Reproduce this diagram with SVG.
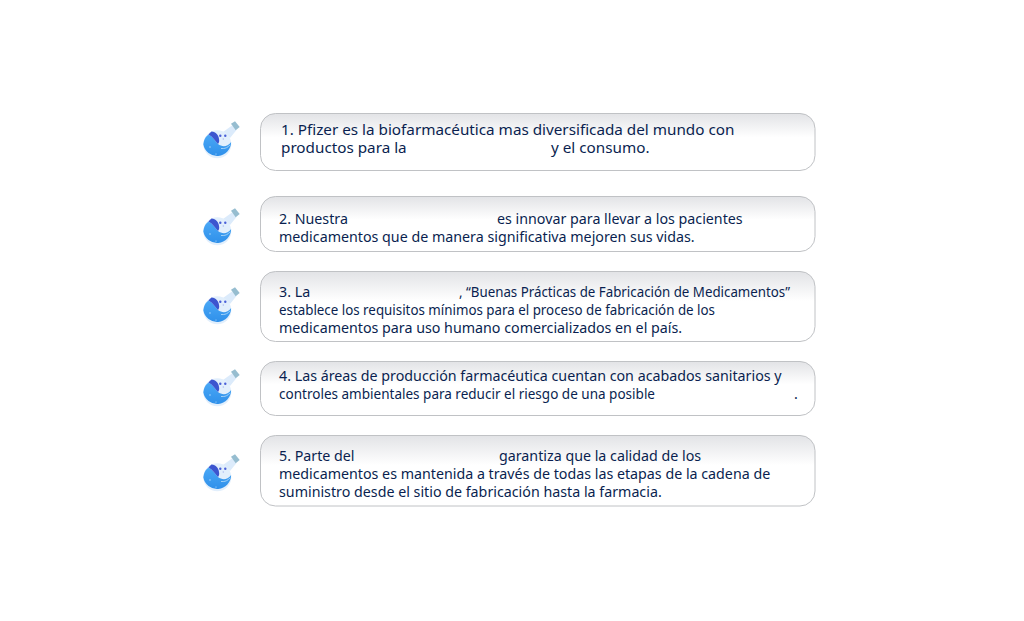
<svg xmlns="http://www.w3.org/2000/svg" xmlns:xlink="http://www.w3.org/1999/xlink" width="1024" height="621" viewBox="0 0 1024 621">
<style>
text{font-family:"Noto Sans","Open Sans",sans-serif;font-size:14.25px;fill:#0a1f50}
.big{font-size:15.25px}
.card{fill:url(#cardFill);stroke:#c0c2c5;stroke-width:1}
</style>
<defs>
<linearGradient id="cardFill" x1="0" y1="0" x2="0" y2="1"><stop offset="0" stop-color="#e2e3e6"/><stop offset=".42" stop-color="#ffffff"/><stop offset="1" stop-color="#ffffff"/></linearGradient>
<linearGradient id="liquid" x1="0" y1="0" x2="0" y2="1"><stop offset="0" stop-color="#4aa8f6"/><stop offset="1" stop-color="#2f90ea"/></linearGradient>
<g id="flask">
<path d="M20 12 L29 5.500 L33.500 10 L27 18Z" fill="#dcebfb"/>
<circle cx="14.300" cy="24.300" r="14" fill="#e2effc"/>
<path d="M5.500 14.500 C10 17 12 21 15 24 C19 27 24 27.500 28.100 22 A14 14 0 0 1 0.300 24.300 A14 14 0 0 1 5.500 14.500Z" fill="url(#liquid)"/>
<path d="M5.500 14.500 A14 14 0 0 1 8.500 11.500 C13 12 15.500 15 16 19 C16.500 21 16 23 15 24 C12 21 10 17 5.500 14.500Z" fill="#3c55cf"/>
<path d="M18 28.500 C22 29 25 27.500 26.800 25" fill="none" stroke="#9ccff8" stroke-width="1"/>
<circle cx="17.300" cy="15.700" r="1.200" fill="#4a60d8"/><circle cx="22.300" cy="15.700" r="1.200" fill="#4a60d8"/>
<circle cx="20.300" cy="19" r=".7" fill="#a9b9ee"/>
<circle cx="7" cy="27" r=".7" fill="#bfe0fb"/><circle cx="13" cy="34" r=".6" fill="#bfe0fb"/>
<path d="M28 3.700 L32 1.300 L36.700 7 L32.700 10.300Z" fill="#96bdd0"/>
</g>
</defs>
<use id="icon1" xlink:href="#flask" href="#flask" x="203" y="120"/>
<use id="icon2" xlink:href="#flask" href="#flask" x="203" y="207"/>
<use id="icon3" xlink:href="#flask" href="#flask" x="203" y="286"/>
<use id="icon4" xlink:href="#flask" href="#flask" x="203" y="368"/>
<use id="icon5" xlink:href="#flask" href="#flask" x="203" y="453"/>
<g id="node1"><rect class="card" x="260.500" y="113.500" width="554.500" height="57" rx="15"/>
<text class="big" x="281" y="135">1. Pfizer es la biofarmacéutica mas diversificada del mundo con</text>
<text class="big" x="281" y="153">productos para la</text><text class="big" x="551" y="153">y el consumo.</text></g>
<g id="node2"><rect class="card" x="260.500" y="196.500" width="554.500" height="55" rx="15"/>
<text x="279" y="224">2. Nuestra</text><text x="497" y="224">es innovar para llevar a los pacientes</text>
<text x="279" y="242">medicamentos que de manera significativa mejoren sus vidas.</text></g>
<g id="node3"><rect class="card" x="260.500" y="271.500" width="554.500" height="70" rx="15"/>
<text x="279" y="297">3. La</text><text x="459" y="297" textLength="331" lengthAdjust="spacingAndGlyphs">, “Buenas Prácticas de Fabricación de Medicamentos”</text>
<text x="279" y="315" textLength="436" lengthAdjust="spacingAndGlyphs">establece los requisitos mínimos para el proceso de fabricación de los</text>
<text x="279" y="333">medicamentos para uso humano comercializados en el país.</text></g>
<g id="node4"><rect class="card" x="260.500" y="361.500" width="554.500" height="54" rx="15"/>
<text x="279" y="381">4. Las áreas de producción farmacéutica cuentan con acabados sanitarios y</text>
<text x="279" y="399" textLength="376" lengthAdjust="spacingAndGlyphs">controles ambientales para reducir el riesgo de una posible</text><text x="794" y="399">.</text></g>
<g id="node5"><rect class="card" x="260.500" y="435.500" width="554.500" height="70.500" rx="15"/>
<text x="279" y="461">5. Parte del</text><text x="499" y="461">garantiza que la calidad de los</text>
<text x="279" y="479">medicamentos es mantenida a través de todas las etapas de la cadena de</text>
<text x="279" y="497">suministro desde el sitio de fabricación hasta la farmacia.</text></g>
<g id="connectors"/>
</svg>
